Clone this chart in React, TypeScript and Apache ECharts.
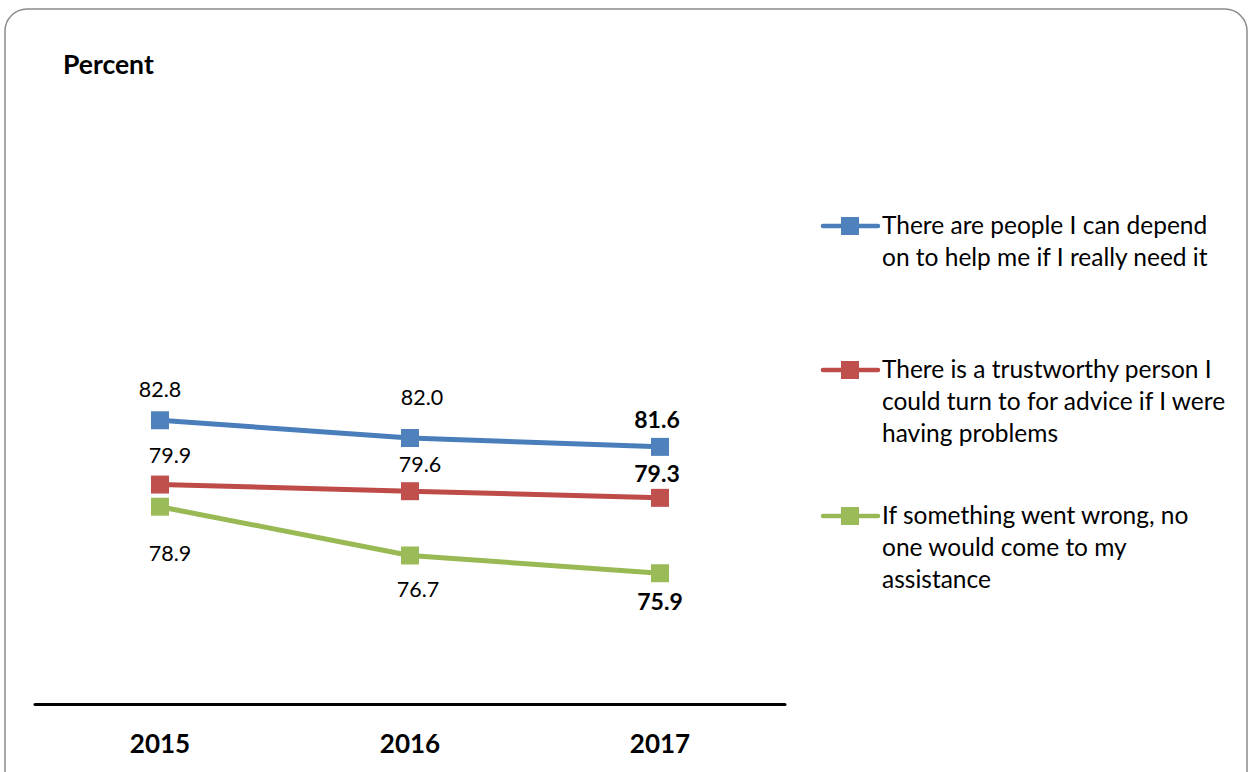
import React, { useEffect, useRef } from "react";
import * as echarts from "echarts";

const years = ["2015", "2016", "2017"];
const seriesNames = [
  "There are people I can depend\non to help me if I really need it",
  "There is a trustworthy person I\ncould turn to for advice if I were\nhaving problems",
  "If something went wrong, no\none would come to my\nassistance",
];
const dependValues = [82.8, 82.0, 81.6];
const trustValues = [79.9, 79.6, 79.3];
const wrongValues = [78.9, 76.7, 75.9];

const colors = ["#4F81BD", "#C0504D", "#9BBB59"];
const lineColors = ["#4A7EBB", "#BE4B48", "#98B954"];
const labelOffsets = [
  [[0, -31], [12, -41], [-3, -28]],
  [[10, -30], [10, -27], [-3, -25]],
  [[10, 46], [8, 34], [0, 28]],
];
const legendTops = [226, 370, 516];

const FONT = "Lato, 'Open Sans', sans-serif";

export default function App() {
  const ref = useRef<HTMLDivElement>(null);
  useEffect(() => {
    if (!ref.current) return;
    const chart = echarts.init(ref.current, null, { renderer: "svg" });
    const all = [dependValues, trustValues, wrongValues];
    const series = all.map((vals, si) => ({
      name: seriesNames[si],
      type: "line",
      data: vals.map((v, i) => ({
        value: v,
        label: {
          show: true,
          position: "inside",
          offset: labelOffsets[si][i],
          formatter: (p: any) => p.value.toFixed(1),
          color: "#000",
          fontFamily: FONT,
          fontSize: i === 2 ? 23 : 21.5,
          fontWeight: i === 2 ? "bold" : "normal",
        },
      })),
      symbol: "rect",
      symbolSize: 18,
      lineStyle: { color: lineColors[si], width: 5 },
      itemStyle: { color: colors[si] },
      z: 3 - si,
    }));

    const legendGraphics: any[] = [];
    seriesNames.forEach((name, i) => {
      const y = legendTops[i];
      legendGraphics.push({
        type: "line",
        shape: { x1: 823, y1: y, x2: 878, y2: y },
        style: { stroke: lineColors[i], lineWidth: 4.5, lineCap: "round" },
      });
      legendGraphics.push({
        type: "rect",
        shape: { x: 841, y: y - 9, width: 18, height: 18 },
        style: { fill: colors[i] },
      });
      legendGraphics.push({
        type: "text",
        x: 882,
        y: y - 18,
        style: {
          text: name,
          fill: "#000",
          font: `24.5px ${FONT}`,
          lineHeight: 32,
          verticalAlign: "top",
        },
      });
    });

    chart.setOption({
      animation: false,
      backgroundColor: "#fff",
      grid: { left: 35, width: 750, top: 39, height: 665, containLabel: false },
      xAxis: {
        type: "category",
        data: years,
        boundaryGap: true,
        axisLine: { lineStyle: { color: "#000", width: 3 } },
        axisTick: { show: false },
        axisLabel: {
          color: "#000",
          fontFamily: FONT,
          fontWeight: "bold",
          fontSize: 26,
          margin: 26,
        },
      },
      yAxis: {
        type: "value",
        min: 70,
        max: 100,
        show: false,
        splitLine: { show: false },
      },
      series,
      graphic: [
        {
          type: "rect",
          shape: { x: 5, y: 9, width: 1242, height: 800, r: 22 },
          style: { fill: "none", stroke: "#8c8c8c", lineWidth: 1.5 },
          z: -1,
        },
        {
          type: "text",
          x: 63,
          y: 64,
          style: {
            text: "Percent",
            fill: "#000",
            font: `bold 26.5px ${FONT}`,
            verticalAlign: "middle",
          },
        },
        ...legendGraphics,
      ],
    });
    return () => chart.dispose();
  }, []);
  return (
    <div
      ref={ref}
      style={{ position: "fixed", left: 0, top: 0, width: 1251, height: 772 }}
    />
  );
}
